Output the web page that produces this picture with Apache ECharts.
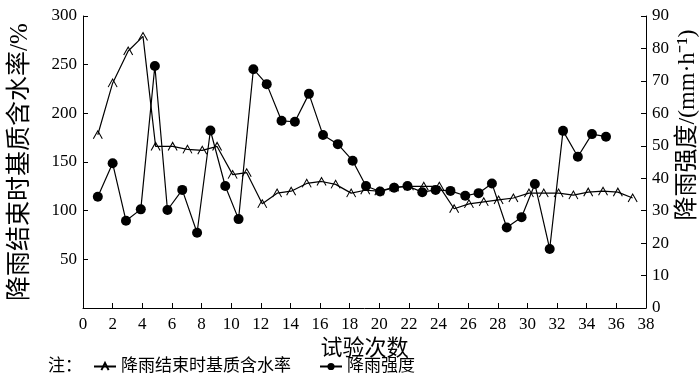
<!DOCTYPE html>
<html>
<head>
<meta charset="utf-8">
<script src="https://cdn.jsdelivr.net/npm/echarts@6/dist/echarts.min.js"></script>
<style>html,body{margin:0;padding:0;background:#fff;}#c{width:700px;height:373px;}</style>
</head>
<body>
<div id="c"></div>
<script>
// Series 1: 降雨结束时基质含水率 (%), left axis
var moistX = [1, 2, 3.05, 4.05, 4.9, 6.05, 7.05, 8.05, 9.05, 10.1, 11.05, 12.1, 13.1, 14.05, 15.1, 16.1, 17.05, 18.1, 19.05, 20, 21, 22, 23, 24.05, 25.05, 26.05, 27.05, 28.05, 29.05, 30.1, 31.1, 32.1, 33.1, 34.1, 35.1, 36.1, 37.1];
var moistY = [178, 231, 264, 279, 166, 166, 163, 162, 166, 137, 139, 107, 118, 120, 128, 130, 127, 118, 121, 120, 124, 125, 125, 125, 102, 107, 109, 111, 113, 118, 118, 118, 116, 119, 120, 119, 113];
// Series 2: 降雨强度 (mm·h-1), right axis
var rainX = [1, 2, 2.9, 3.9, 4.85, 5.7, 6.7, 7.7, 8.6, 9.6, 10.5, 11.5, 12.4, 13.4, 14.3, 15.25, 16.2, 17.2, 18.2, 19.1, 20.05, 21, 21.9, 22.9, 23.8, 24.8, 25.8, 26.7, 27.6, 28.6, 29.6, 30.5, 31.5, 32.4, 33.4, 34.35, 35.3];
var rainY = [34.3, 44.6, 26.9, 30.4, 74.6, 30.2, 36.4, 23.2, 54.7, 37.6, 27.4, 73.6, 69, 57.7, 57.4, 66, 53.3, 50.5, 45.4, 37.6, 35.9, 37.1, 37.6, 35.7, 36.4, 36.1, 34.6, 35.4, 38.4, 24.8, 28, 38.2, 18.2, 54.6, 46.6, 53.6, 52.8];
var seriesNames = ['降雨结束时基质含水率', '降雨强度'];
var xAxisName = '试验次数';
var leftAxisName = '降雨结束时基质含水率/%';
var rightAxisName = '降雨强度/(mm·h⁻¹)';
var noteText = '注：';

function pairs(xs, ys) { return xs.map(function (x, i) { return [x, ys[i]]; }); }

var FONT = '"Liberation Serif", "Noto Sans CJK SC", serif';
var chart = echarts.init(document.getElementById('c'), null, { renderer: 'canvas' });
var axisCommon = {
  axisLine: { show: true, lineStyle: { color: '#000', width: 1 } },
  axisTick: { show: true, inside: true, length: 5, lineStyle: { color: '#000' } },
  splitLine: { show: false },
  axisLabel: { color: '#000', fontSize: 17, fontFamily: FONT }
};
chart.setOption({
  animation: false,
  backgroundColor: '#fff',
  grid: { left: 64, right: 54, top: 16, bottom: 65, containLabel: false },
  xAxis: Object.assign({}, axisCommon, {
    type: 'value', min: 0, max: 38, interval: 2,
    name: xAxisName, nameLocation: 'middle', nameGap: 19,
    nameTextStyle: { color: '#000', fontSize: 22, fontFamily: FONT },
    axisLabel: { color: '#000', fontSize: 17, fontFamily: FONT, margin: 8 }
  }),
  yAxis: [
    Object.assign({}, axisCommon, {
      type: 'value', min: 0, max: 300, interval: 50, position: 'left',
      name: leftAxisName, nameLocation: 'middle', nameGap: 50, nameRotate: 90,
      nameTextStyle: { color: '#000', fontSize: 25, fontFamily: FONT },
      axisLabel: { color: '#000', fontSize: 17, fontFamily: FONT, margin: 6,
        formatter: function (v) { return v === 0 ? '' : v; } }
    }),
    Object.assign({}, axisCommon, {
      type: 'value', min: 0, max: 90, interval: 10, position: 'right',
      axisLabel: { color: '#000', fontSize: 17, fontFamily: FONT, margin: 6 }
    })
  ],
  legend: {
    left: 93, top: 358, itemWidth: 22, itemHeight: 9, itemGap: 28,
    padding: 0,
    textStyle: { color: '#000', fontSize: 17, fontFamily: FONT },
    data: seriesNames
  },
  graphic: [
    {
      type: 'text', left: 48, top: 358,
      style: { text: noteText, fill: '#000', font: '17px ' + FONT }
    },
    {
      type: 'text', x: 688, y: 125, rotation: Math.PI / 2,
      style: { text: rightAxisName, fill: '#000', font: '24px ' + FONT, align: 'center', verticalAlign: 'middle' }
    }
  ],
  series: [
    {
      name: seriesNames[0], type: 'line', yAxisIndex: 0,
      data: pairs(moistX, moistY),
      symbol: 'path://M0,10L5,0L10,10', symbolSize: [9, 8],
      itemStyle: { color: 'rgba(255,255,255,0)', borderColor: '#000', borderWidth: 1 },
      lineStyle: { color: '#000', width: 1.2 }
    },
    {
      name: seriesNames[1], type: 'line', yAxisIndex: 1,
      data: pairs(rainX, rainY),
      symbol: 'circle', symbolSize: 10,
      itemStyle: { color: '#000' },
      lineStyle: { color: '#000', width: 1.2 }
    }
  ]
});
</script>
</body>
</html>
